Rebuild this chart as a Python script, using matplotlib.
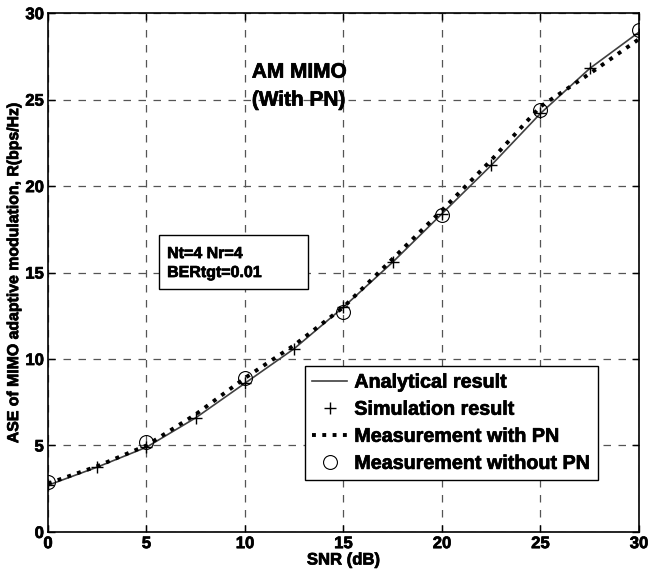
import matplotlib
matplotlib.use("Agg")
import matplotlib.pyplot as plt
from matplotlib import font_manager as fm
from matplotlib.patches import Rectangle
import matplotlib.patheffects as pe

snr_fine = [0, 2.5, 5, 7.5, 10, 12.5, 15, 17.5, 20, 22.5, 25, 27.5, 30]
analytical = [2.7, 3.75, 4.9, 6.6, 8.6, 10.6, 13.0, 15.6, 18.4, 21.2, 24.2, 26.8, 28.9]
simulation = [2.7, 3.75, 4.9, 6.6, 8.6, 10.6, 13.0, 15.6, 18.4, 21.2, 24.2, 26.8, 28.8]
meas_pn = [2.8, 3.8, 5.0, 6.8, 8.9, 10.8, 13.0, 15.8, 18.6, 21.5, 24.6, 26.5, 28.5]
snr_coarse = [0, 5, 10, 15, 20, 25, 30]
meas_nopn = [2.9, 5.2, 8.9, 12.7, 18.3, 24.4, 29.0]

fam = 'Liberation Sans'
try:
    f = fm.findfont(fm.FontProperties(family=fam, weight='bold'), fallback_to_default=False)
    if 'bold' not in f.lower():
        fam = 'Roboto'
except Exception:
    fam = 'Roboto'

plt.rcParams['font.family'] = [fam, 'DejaVu Sans']
plt.rcParams['font.weight'] = 'bold'

heavy = [pe.withStroke(linewidth=0.5, foreground='black')]

fig = plt.figure(figsize=(6.48, 5.72), dpi=100)
ax = fig.add_axes([0.074, 0.070, 0.912, 0.907])

ax.plot(snr_fine, analytical, '-', color='#404040', lw=1.2, label='Analytical result')
ax.plot(snr_fine, simulation, '+', color='black', ms=8, mew=1.0, linestyle='none', label='Simulation result')
ax.plot(snr_fine, meas_pn, ':', color='black', lw=2.8, label='Measurement with PN')
ax.plot(snr_coarse, meas_nopn, 'o', mfc='none', mec='black', ms=10, mew=0.8, linestyle='none', label='Measurement without PN')

ax.set_xlim(0, 30)
ax.set_ylim(0, 30)
ax.set_xticks([0, 5, 10, 15, 20, 25, 30])
ax.set_yticks([0, 5, 10, 15, 20, 25, 30])
ax.grid(True, linestyle=(0, (6, 6)), color='#555555', lw=0.9)
ax.tick_params(direction='in', labelsize=12, width=1, length=5, top=True, right=True, pad=3)
for lab in ax.get_xticklabels() + ax.get_yticklabels():
    lab.set_fontweight('bold')
    lab.set_path_effects(heavy)
for s in ax.spines.values():
    s.set_linewidth(1.2)

ax.set_xlabel('SNR (dB)', fontsize=12, fontweight='bold', labelpad=1, path_effects=heavy)
ax.set_ylabel('ASE of MIMO adaptive modulation, R(bps/Hz)', fontsize=11.4, fontweight='bold',
              labelpad=3, path_effects=heavy)

ax.text(10.35, 26.59, 'AM MIMO', fontsize=15, fontweight='bold', ha='left', va='center', path_effects=heavy)
ax.text(10.35, 24.97, '(With PN)', fontsize=15, fontweight='bold', ha='left', va='center', path_effects=heavy)

ax.add_patch(Rectangle((5.65, 14.03), 7.55, 3.15, fill=True, fc='white', ec='black', lw=1, zorder=5))
ax.text(6.05, 15.55, 'Nt=4 Nr=4\nBERtgt=0.01', fontsize=11.5, fontweight='bold', ha='left', va='center',
        linespacing=1.33, zorder=6, path_effects=heavy)

leg = ax.legend(loc='lower right', bbox_to_anchor=(0.9306, 0.1002), fontsize=14.2, frameon=True,
                fancybox=False, edgecolor='black', framealpha=1, handlelength=1.78,
                borderpad=0.36, labelspacing=0.41, handletextpad=0.35, borderaxespad=0)
leg.get_frame().set_linewidth(1.0)
for t in leg.get_texts():
    t.set_fontweight('bold')
    t.set_path_effects(heavy)

fig.savefig('out.png', dpi=100)
